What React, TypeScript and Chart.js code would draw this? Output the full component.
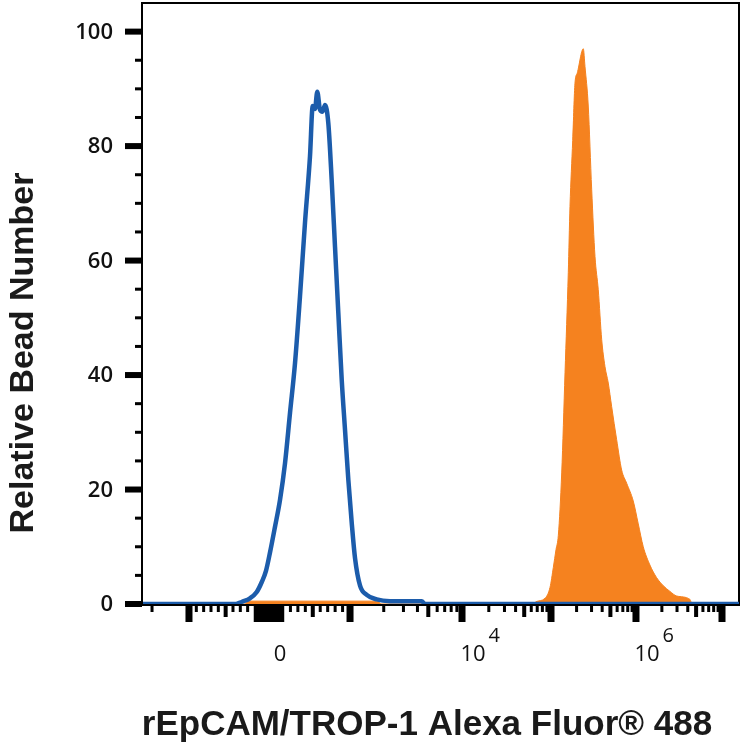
import React, { useEffect, useRef } from "react";
import { Chart, registerables } from "chart.js";

Chart.register(...registerables);

// Display channels (0..1024 across the logicle-type x axis)
const BLUE_CH = [0, 159.8, 170.1, 183.8, 195.4, 203.9, 211.3, 218.2, 226.8, 235.4, 244.0, 252.6, 261.2, 269.7, 278.3, 286.9, 291.6, 295.5, 299.4, 304.0, 308.4, 312.7, 318.4, 324.2, 329.9, 335.6, 341.4, 347.1, 352.8, 358.6, 364.3, 372.9, 384.4, 401.5, 424.4, 478.8, 484.5, 1024];
const BLUE_COUNT = [0, 0, 0.4, 1.0, 2.1, 3.8, 5.8, 9.0, 13.5, 18.2, 24.6, 33.4, 42.1, 53.7, 66.6, 78.2, 87.0, 86.5, 89.5, 86.4, 86.0, 87.2, 84.0, 74.0, 62.4, 50.8, 39.2, 30.4, 21.7, 14.2, 8.0, 3.2, 1.6, 0.8, 0.5, 0.5, 0, 0];

const ORANGE_CH = [0, 175.2, 180.4, 403.8, 408.9, 670.1, 675.2, 690.7, 699.3, 705.0, 709.6, 713.6, 719.4, 725.1, 730.7, 733.6, 738.3, 742.2, 746.2, 756.5, 759.4, 765.0, 770.9, 776.6, 782.2, 788.1, 793.7, 799.4, 805.2, 813.8, 822.4, 831.0, 842.3, 850.9, 859.5, 871.0, 882.5, 893.9, 905.4, 916.9, 939.8, 943.3, 1024];
const ORANGE_COUNT = [0, 0, 0.5, 0.5, 0, 0, 0.4, 1.0, 2.9, 6.4, 9.5, 12.0, 22.9, 40.4, 57.9, 69.4, 81.0, 91.0, 92.8, 97.0, 93.9, 87.0, 72.4, 60.7, 54.9, 46.2, 41.5, 38.6, 34.5, 28.7, 23.4, 21.1, 18.0, 14.0, 10.0, 6.8, 4.6, 3.2, 2.2, 1.4, 0.8, 0, 0];

// Axis transform anchors: intensity value -> display channel
const ANCHOR_VALUES = [-2000, -1000, -100, 0, 100, 1000, 1e4, 1e5, 1e6, 1e7];
const ANCHOR_CHANNELS = [15.5, 79.0, 192.4, 216.5, 240.5, 355.7, 548.1, 701.0, 847.0, 994.8];

const X_MAJOR = [-1000, 0, 1000, 1e4, 1e5, 1e6, 1e7];
const X_CLUSTER = [-100, -90, -80, -70, -60, -50, -40, -30, -20, -10, 10, 20, 30, 40, 50, 60, 70, 80, 90, 100];
const X_MEDIUM = [-500, 500, 5e3, 5e4, 5e5, 5e6];
const X_MINOR = [
  -2000, -900, -800, -700, -600, -400, -300, -200,
  200, 300, 400, 600, 700, 800, 900,
  2e3, 3e3, 4e3, 6e3, 7e3, 8e3, 9e3,
  2e4, 3e4, 4e4, 6e4, 7e4, 8e4, 9e4,
  2e5, 3e5, 4e5, 6e5, 7e5, 8e5, 9e5,
  2e6, 3e6, 4e6, 6e6, 7e6, 8e6, 9e6,
];
const X_LABEL_VALUES = [0, 1e4, 1e6];
const X_LABEL_BASES = ["0", "10", "10"];
const X_LABEL_EXPS = ["", "4", "6"];

const Y_MAJOR = [0, 20, 40, 60, 80, 100];
const Y_MINOR = [5, 10, 15, 25, 30, 35, 45, 50, 55, 65, 70, 75, 85, 90, 95];

const X_TITLE = "rEpCAM/TROP-1 Alexa Fluor® 488";
const Y_TITLE = "Relative Bead Number";

const BLUE = "#1c5cab";
const ORANGE = "#f5821f";

function toChannel(v: number): number {
  const n = ANCHOR_VALUES.length;
  if (v <= ANCHOR_VALUES[0]) return ANCHOR_CHANNELS[0];
  for (let i = 0; i < n - 1; i++) {
    const a = ANCHOR_VALUES[i];
    const b = ANCHOR_VALUES[i + 1];
    if (v >= a && v <= b) {
      let t: number;
      if (a >= 1000) t = (Math.log10(v) - Math.log10(a)) / (Math.log10(b) - Math.log10(a));
      else t = (v - a) / (b - a);
      return ANCHOR_CHANNELS[i] + t * (ANCHOR_CHANNELS[i + 1] - ANCHOR_CHANNELS[i]);
    }
  }
  return ANCHOR_CHANNELS[n - 1];
}

const axesPlugin = {
  id: "flowAxes",
  beforeDatasetsDraw(chart: any) {
    const { ctx, chartArea } = chart;
    const { left, right, top, bottom } = chartArea;
    ctx.save();
    ctx.strokeStyle = "#000";
    ctx.lineWidth = 2;
    ctx.beginPath();
    ctx.moveTo(left - 1, top - 1);
    ctx.lineTo(left - 1, bottom + 2);
    ctx.moveTo(left - 2, top);
    ctx.lineTo(right, top);
    ctx.moveTo(right, top - 1);
    ctx.lineTo(right, bottom + 2);
    ctx.moveTo(left - 2, bottom + 1);
    ctx.lineTo(right + 1, bottom + 1);
    ctx.stroke();
    ctx.restore();
  },
  afterDraw(chart: any) {
    const { ctx, chartArea, scales } = chart;
    const xs = scales.x;
    const ys = scales.y;
    const { left, bottom } = chartArea;
    ctx.save();
    ctx.fillStyle = "#000";
    // y ticks
    Y_MAJOR.forEach((v) => {
      const y = ys.getPixelForValue(v);
      ctx.fillRect(left - 18, y - 3, 17, 6);
    });
    Y_MINOR.forEach((v) => {
      const y = ys.getPixelForValue(v);
      ctx.fillRect(left - 8, y - 1.5, 7, 3);
    });
    // x ticks
    const tickTop = bottom + 2;
    const drawTick = (v: number, w: number, len: number) => {
      const x = xs.getPixelForValue(toChannel(v));
      ctx.fillRect(x - w / 2, tickTop, w, len);
    };
    X_MINOR.forEach((v) => drawTick(v, 3, 6));
    X_MEDIUM.forEach((v) => drawTick(v, 4, 11));
    X_CLUSTER.forEach((v) => drawTick(v, 2.5, 16));
    X_MAJOR.forEach((v) => drawTick(v, 7, 16));

    // y labels
    ctx.fillStyle = "#111";
    ctx.font = "600 22px 'Open Sans', sans-serif";
    ctx.textAlign = "right";
    ctx.textBaseline = "middle";
    Y_MAJOR.forEach((v) => {
      const y = ys.getPixelForValue(v);
      ctx.fillText(String(v), 113, y + 1);
    });

    // x labels
    ctx.textBaseline = "middle";
    X_LABEL_VALUES.forEach((v, i) => {
      const x = xs.getPixelForValue(toChannel(v)) + 11;
      ctx.font = "500 22px 'Open Sans', sans-serif";
      ctx.textAlign = "center";
      ctx.fillText(X_LABEL_BASES[i], x, 655);
      if (X_LABEL_EXPS[i]) {
        const w = ctx.measureText(X_LABEL_BASES[i]).width;
        ctx.font = "500 20px 'Open Sans', sans-serif";
        ctx.textAlign = "left";
        ctx.fillText(X_LABEL_EXPS[i], x + w / 2 + 3, 636);
      }
    });

    // titles
    ctx.fillStyle = "#1a1a1a";
    ctx.font = "bold 35px 'Liberation Sans', Arial, sans-serif";
    ctx.textAlign = "center";
    ctx.textBaseline = "alphabetic";
    ctx.fillText(X_TITLE, 427, 735);

    ctx.save();
    ctx.translate(33, 353);
    ctx.rotate(-Math.PI / 2);
    ctx.font = "bold 34px 'Liberation Sans', Arial, sans-serif";
    ctx.fillText(Y_TITLE, 0, 0);
    ctx.restore();

    ctx.restore();
  },
};

export default function App() {
  const canvasRef = useRef<HTMLCanvasElement | null>(null);

  useEffect(() => {
    const canvas = canvasRef.current;
    if (!canvas) return;
    const blueData = BLUE_CH.map((x, i) => ({ x, y: BLUE_COUNT[i] }));
    const orangeData = ORANGE_CH.map((x, i) => ({ x, y: ORANGE_COUNT[i] }));
    const chart = new Chart(canvas, {
      type: "line",
      data: {
        datasets: [
          {
            label: "Isotype",
            data: blueData,
            borderColor: BLUE,
            borderWidth: 4.5,
            fill: false,
            pointRadius: 0,
            cubicInterpolationMode: "monotone",
          },
          {
            label: "rEpCAM/TROP-1",
            data: orangeData,
            borderColor: ORANGE,
            backgroundColor: ORANGE,
            borderWidth: 1,
            fill: "origin",
            pointRadius: 0,
            cubicInterpolationMode: "monotone",
          },
        ],
      },
      options: {
        responsive: false,
        animation: false,
        devicePixelRatio: 1,
        layout: { padding: { left: 143, right: 2, top: 3, bottom: 142 } },
        plugins: { legend: { display: false }, tooltip: { enabled: false } },
        scales: {
          x: { type: "linear", min: 0, max: 1024, display: false },
          y: { type: "linear", min: 0, max: 105, display: false },
        },
      },
      plugins: [axesPlugin],
    });
    return () => chart.destroy();
  }, []);

  return (
    <div style={{ position: "absolute", left: 0, top: 0, width: 741, height: 746, background: "#fff" }}>
      <canvas ref={canvasRef} width={741} height={746} />
    </div>
  );
}
